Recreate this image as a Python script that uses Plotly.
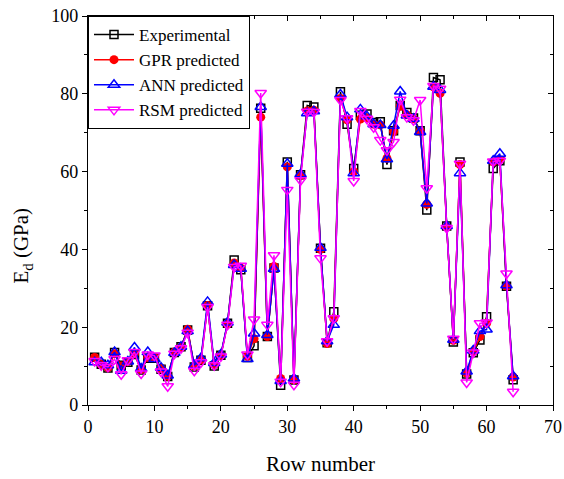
import plotly.graph_objects as go

rows = list(range(1, 65))

experimental = [12.3, 10.5, 9.5, 13.5, 10.2, 11.0, 13.0, 9.0, 12.0, 12.0,
                9.2, 7.3, 13.5, 15.0, 19.3, 9.8, 11.5, 25.5, 10.0, 12.8,
                21.0, 37.3, 34.8, 12.2, 15.2, 76.3, 17.6, 35.2, 5.1, 62.5,
                6.4, 59.2, 77.0, 76.6, 40.3, 16.0, 24.0, 80.5, 72.2, 60.8,
                74.5, 74.8, 72.6, 72.8, 61.8, 70.5, 77.0, 75.2, 73.8, 70.5,
                50.1, 84.2, 83.6, 46.0, 16.2, 62.5, 8.0, 13.4, 16.7, 22.7,
                60.8, 62.8, 30.5, 6.5]

gpr = [12.2, 10.4, 9.6, 13.2, 10.0, 11.2, 13.2, 9.2, 12.2, 12.2,
       9.4, 7.4, 13.6, 14.8, 19.5, 10.0, 11.6, 25.6, 10.3, 12.8,
       20.8, 36.5, 35.2, 12.5, 17.0, 74.0, 17.6, 35.6, 6.8, 61.2,
       6.5, 59.0, 75.6, 75.8, 40.0, 15.8, 22.2, 78.8, 73.3, 60.0,
       73.5, 73.8, 72.2, 72.0, 63.4, 70.3, 76.8, 74.6, 73.6, 70.4,
       51.6, 81.8, 80.1, 45.8, 16.6, 61.8, 8.2, 13.8, 17.6, 21.0,
       62.5, 63.0, 30.6, 7.2]

ann = [11.0, 11.0, 10.2, 13.6, 8.8, 11.2, 14.8, 9.4, 13.6, 11.8,
       9.6, 7.6, 13.4, 15.0, 19.0, 10.2, 12.0, 26.5, 10.8, 13.0,
       21.2, 36.0, 35.0, 11.8, 18.4, 76.6, 18.0, 35.0, 6.2, 62.0,
       6.8, 59.3, 75.0, 75.5, 40.4, 16.4, 20.6, 79.8, 74.0, 59.6,
       76.0, 74.2, 72.2, 72.0, 63.2, 71.8, 80.6, 74.4, 73.6, 70.2,
       51.8, 81.8, 81.0, 46.0, 16.8, 59.6, 8.6, 14.0, 19.0, 19.4,
       62.8, 64.6, 30.8, 7.4]

rsm = [11.3, 10.2, 9.8, 11.8, 7.9, 11.5, 13.6, 8.1, 13.0, 12.7,
       8.6, 4.8, 13.2, 14.6, 18.6, 8.8, 11.0, 25.2, 10.2, 12.5,
       20.6, 35.5, 35.8, 13.0, 22.0, 80.2, 20.6, 38.5, 6.0, 55.3,
       5.2, 57.8, 75.4, 75.3, 37.7, 16.4, 22.3, 78.4, 73.7, 57.6,
       75.6, 73.6, 71.4, 68.1, 65.5, 67.6, 78.5, 74.0, 73.2, 78.4,
       55.7, 82.0, 81.3, 45.5, 17.0, 62.0, 5.8, 13.5, 21.0, 21.2,
       62.6, 62.8, 33.8, 3.4]

x_ticks = [0, 10, 20, 30, 40, 50, 60, 70]
x_minor = [5, 15, 25, 35, 45, 55, 65]
y_ticks = [0, 20, 40, 60, 80, 100]
y_minor = [10, 30, 50, 70, 90]

FONT = "Liberation Serif, Times New Roman, serif"

fig = go.Figure()

fig.add_trace(go.Scatter(
    x=rows, y=experimental, name="Experimental", mode="lines+markers",
    line=dict(color="black", width=1.5),
    marker=dict(symbol="square-open", size=8, color="black", line=dict(width=1.5))))
fig.add_trace(go.Scatter(
    x=rows, y=gpr, name="GPR predicted", mode="lines+markers",
    line=dict(color="#ff0000", width=1.5),
    marker=dict(symbol="circle", size=9, color="#ff0000")))
fig.add_trace(go.Scatter(
    x=rows, y=ann, name="ANN predicted", mode="lines+markers",
    line=dict(color="#0000ff", width=1.5),
    marker=dict(symbol="triangle-up-open", size=10, color="#0000ff", line=dict(width=1.5))))
fig.add_trace(go.Scatter(
    x=rows, y=rsm, name="RSM predicted", mode="lines+markers",
    line=dict(color="#ff00ff", width=1.5),
    marker=dict(symbol="triangle-down-open", size=10, color="#ff00ff", line=dict(width=1.5))))

# helper trace so that mirrored tick axes are drawn
fig.add_trace(go.Scatter(x=[None], y=[None], xaxis="x2", yaxis="y2",
                         showlegend=False, hoverinfo="skip"))

axis_common = dict(showgrid=False, zeroline=False, linecolor="black", linewidth=1.2,
                   tickcolor="black", ticklen=5, tickwidth=1.2, automargin=False,
                   tickfont=dict(family=FONT, size=18, color="black"))

mirror_common = dict(showticklabels=False, showline=False, showgrid=False, zeroline=False,
                     tickcolor="black", ticklen=5, tickwidth=1.2, automargin=False,
                     ticks="inside")

fig.update_layout(
    width=564, height=479,
    margin=dict(l=88, r=11, t=16, b=74, autoexpand=False),
    paper_bgcolor="white", plot_bgcolor="white",
    font=dict(family=FONT, color="black"),
    xaxis=dict(range=[0, 70], tickvals=x_ticks, ticks="outside", mirror=True, showline=True,
               minor=dict(tickvals=x_minor, ticks="outside", ticklen=3,
                          tickcolor="black", tickwidth=1.2),
               title=dict(text="Row number", font=dict(family=FONT, size=21), standoff=20),
               **axis_common),
    yaxis=dict(range=[0, 100], tickvals=y_ticks, ticks="outside", mirror=True, showline=True,
               minor=dict(tickvals=y_minor, ticks="outside", ticklen=3,
                          tickcolor="black", tickwidth=1.2),
               **axis_common),
    xaxis2=dict(range=[0, 70], tickvals=x_ticks, overlaying="x", side="top", anchor="y",
                minor=dict(tickvals=x_minor, ticks="inside", ticklen=3,
                           tickcolor="black", tickwidth=1.2),
                **mirror_common),
    yaxis2=dict(range=[0, 100], tickvals=y_ticks, overlaying="y", side="right", anchor="x",
                minor=dict(tickvals=y_minor, ticks="inside", ticklen=3,
                           tickcolor="black", tickwidth=1.2),
                **mirror_common),
    legend=dict(x=0, y=1, xanchor="left", yanchor="top",
                bgcolor="white", bordercolor="black", borderwidth=1,
                font=dict(family=FONT, size=17, color="black"),
                tracegroupgap=0, itemwidth=40),
    annotations=[dict(text="E<sub>d</sub> (GPa)", textangle=-90, showarrow=False,
                      xref="paper", yref="paper", x=-0.142, y=0.41,
                      xanchor="center", yanchor="middle",
                      font=dict(family=FONT, size=21, color="black"))],
    showlegend=True,
)

fig.write_html("out.html", config={"displayModeBar": False},
               post_script="document.body.style.margin='0';")
